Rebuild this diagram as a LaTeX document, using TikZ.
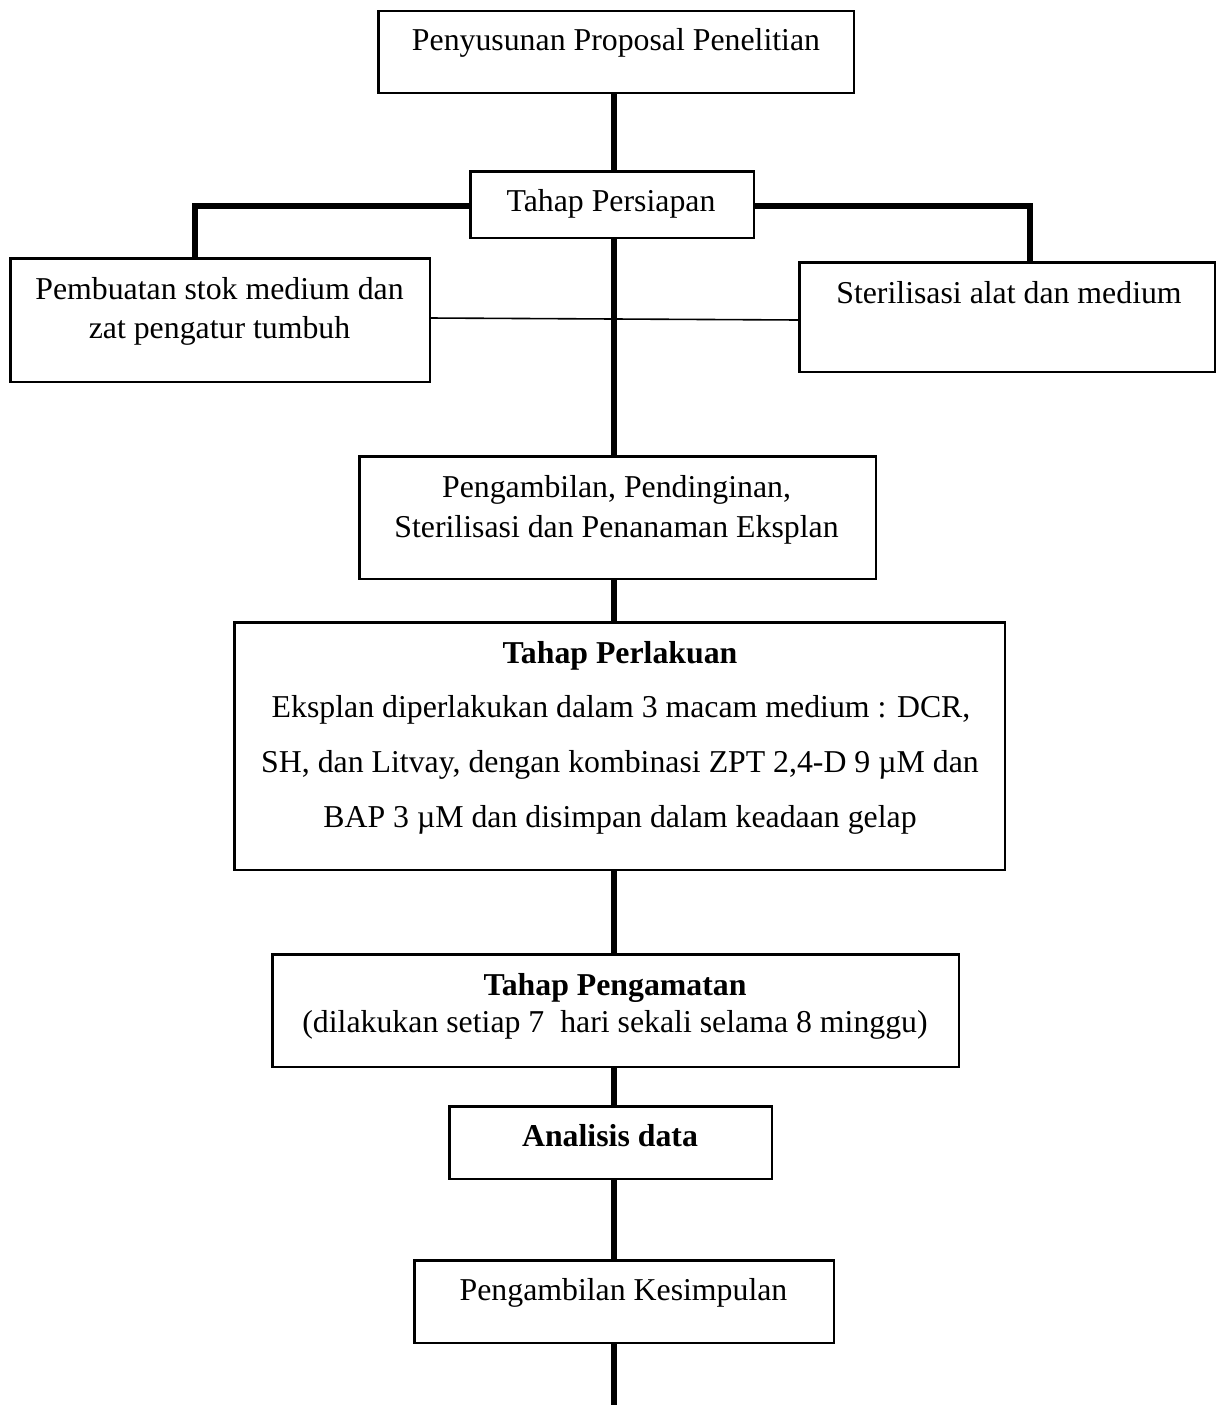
\documentclass[tikz,border=0pt]{standalone}
\usepackage{fontspec}
\setmainfont{Liberation Serif}
\begin{document}
\begin{tikzpicture}[x=1pt,y=-1pt,
  box/.style={draw=black,line width=1.5pt,rectangle,inner sep=0pt,anchor=north west,fill=white},
  txt/.style={anchor=base,inner sep=0pt,font=\fontsize{31.8}{38}\selectfont},
  btxt/.style={txt,font=\fontsize{31.8}{38}\selectfont\bfseries},
  conn/.style={draw=black,line width=5.5pt},
  thinconn/.style={draw=black,line width=1.6pt}]
\useasboundingbox[fill=white] (0,0) rectangle (1217,1405);

% boxes
\node[box,minimum width=475pt,minimum height=81pt] (b1) at (378,11) {};
\node[box,minimum width=283pt,minimum height=66pt] (b2) at (470,171) {};
\node[box,minimum width=419pt,minimum height=123pt] (b3) at (10,258) {};
\node[box,minimum width=415pt,minimum height=109pt] (b4) at (799,262) {};
\node[box,minimum width=516pt,minimum height=122pt] (b5) at (359,456) {};
\node[box,minimum width=770pt,minimum height=247pt] (b6) at (234,622) {};
\node[box,minimum width=686pt,minimum height=112pt] (b7) at (272,954) {};
\node[box,minimum width=322pt,minimum height=72pt] (b8) at (449,1106) {};
\node[box,minimum width=419pt,minimum height=82pt] (b9) at (414,1260) {};

% helper coordinates
\coordinate (spine) at (614,0);
\coordinate (lk) at (195,206);
\coordinate (rk) at (1030,206);
\coordinate (endpt) at (614,1405);
\coordinate (thinL) at (429,318);
\coordinate (thinR) at (799,320);

% connectors
\draw[conn] (spine |- b1.south) -- (spine |- b2.north);
\draw[conn] (spine |- b2.south) -- (spine |- b5.north);
\draw[conn,line join=miter] (b2.west |- lk) -- (lk) -- (lk |- b3.north);
\draw[conn,line join=miter] (b2.east |- rk) -- (rk) -- (rk |- b4.north);
\draw[thinconn] (thinL) -- (thinR);
\draw[conn] (spine |- b5.south) -- (spine |- b6.north);
\draw[conn] (spine |- b6.south) -- (spine |- b7.north);
\draw[conn] (spine |- b7.south) -- (spine |- b8.north);
\draw[conn] (spine |- b8.south) -- (spine |- b9.north);
\draw[conn] (spine |- b9.south) -- (endpt);

% redraw box borders on top of connectors
\foreach \b in {b1,b2,b3,b4,b5,b6,b7,b8,b9}{
  \draw[line width=1.5pt] (\b.north west) rectangle (\b.south east);
}

% texts
\node[txt] (t1) at (616,51) {Penyusunan Proposal Penelitian};
\node[txt] (t2) at (611,211) {Tahap Persiapan};
\node[txt] (t3a) at (219.5,299) {Pembuatan stok medium dan};
\node[txt] (t3b) at (219.5,338) {zat pengatur tumbuh};
\node[txt] (t4) at (1009,303) {Sterilisasi alat dan medium};
\node[txt] (t5a) at (616.5,497) {Pengambilan, Pendinginan,};
\node[txt] (t5b) at (616.5,537) {Sterilisasi dan Penanaman Eksplan};
\node[btxt] (t6a) at (620,663) {Tahap Perlakuan};
\node[txt] (t6b) at (621,717) {Eksplan diperlakukan dalam 3 macam medium : DCR,};
\node[txt] (t6c) at (620,772) {SH, dan Litvay, dengan kombinasi ZPT 2,4-D 9 µM dan};
\node[txt] (t6d) at (620,827) {BAP 3 µM dan disimpan dalam keadaan gelap};
\node[btxt] (t7a) at (615,995) {Tahap Pengamatan};
\node[txt] (t7b) at (615,1032) {(dilakukan setiap 7\ \ hari sekali selama 8 minggu)};
\node[btxt] (t8) at (610,1146) {Analisis data};
\node[txt] (t9) at (623.5,1300) {Pengambilan Kesimpulan};
\end{tikzpicture}
\end{document}
